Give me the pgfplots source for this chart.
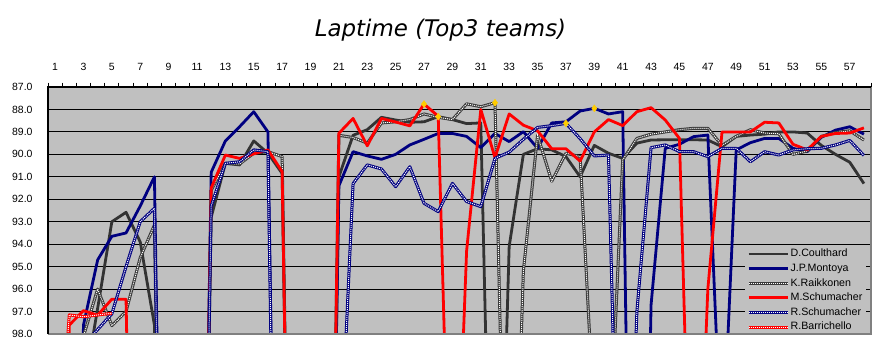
\documentclass[border=0pt]{standalone}
\usepackage{fontspec}
\setmainfont{Liberation Sans}
\newfontfamily\titlefont{DejaVu Sans}
\usepackage{pgfplots}
\pgfplotsset{compat=1.18}
\usepackage{pgfplotstable}
\definecolor{bg}{HTML}{C0C0C0}
\definecolor{dcc}{HTML}{333333}
\definecolor{jpm}{HTML}{000080}
\definecolor{krc}{HTML}{3A3A3A}
\definecolor{msc}{HTML}{FF0000}
\definecolor{gold}{HTML}{FFCC00}
\definecolor{bord}{HTML}{808080}

\pgfplotstableread{
lap DC JPM KR MS RS
1 130 130 130 130 130
2 130 130 130 97.6 130
3 100.6 97.6 98.1 96.96 98.5
4 96.85 94.7 96.0 97.16 97.8
5 93.0 93.65 97.63 96.45 97.1
6 92.58 93.5 97.0 96.45 95.0
7 93.9 92.3 94.6 130 93.0
8 97.6 91.0 93.15 130 92.4
9 130 130 130 130 130
10 130 130 130 130 130
11 130 130 130 130 130
12 92.8 90.8 91.6 91.5 92.3
13 90.4 89.4 90.4 90.03 90.4
14 90.47 88.77 90.43 90.18 90.33
15 89.4 88.1 89.95 89.98 89.8
16 89.95 89.0 89.88 89.8 89.88
17 90.85 130 90.1 90.77 130
18 130 130 130 130 130
19 130 130 130 130 130
20 130 130 130 130 130
21 91.0 91.4 89.15 89.06 105
22 89.15 89.88 89.25 88.4 91.3
23 88.9 90.07 89.5 89.62 90.47
24 88.35 90.22 88.6 88.4 90.65
25 88.47 90.0 88.55 88.56 91.44
26 88.57 89.58 88.45 88.73 90.55
27 88.55 89.33 88.2 87.76 92.18
28 88.32 89.07 88.35 88.3 92.55
29 88.45 89.07 88.45 111 91.29
30 88.63 89.2 87.75 94.3 92.1
31 88.6 89.7 87.88 88.0 92.33
32 116 89.07 87.7 90.15 90.18
33 94.1 89.43 115 88.2 89.9
34 90.0 88.99 95.2 88.7 89.33
35 89.75 89.73 89.15 88.95 88.8
36 89.8 88.6 91.2 89.75 88.72
37 90.1 88.55 89.95 89.75 88.62
38 91.0 88.07 90.1 90.3 89.3
39 89.6 87.95 102 89.0 90.07
40 89.95 88.2 104.5 88.45 90.03
41 90.18 88.1 90.25 88.72 115
42 89.5 130 89.29 88.1 97.0
43 89.36 96.7 89.1 87.92 89.7
44 89.35 89.73 89.0 88.47 89.58
45 89.35 89.55 88.9 89.29 89.88
46 89.35 89.21 88.84 112 89.88
47 89.36 89.14 88.84 96.0 90.1
48 89.66 104 89.6 89.0 89.73
49 89.2 89.8 89.2 89.0 89.73
50 89.14 89.48 88.9 89.0 90.33
51 89.1 89.29 89.05 88.57 89.88
52 89.0 89.29 89.08 88.6 90.03
53 89.0 89.73 90.0 89.55 89.8
54 89.05 89.88 89.85 89.8 89.75
55 89.6 89.24 89.2 89.2 89.73
56 90.0 88.92 89.03 89.07 89.58
57 90.35 88.77 88.95 89.05 89.38
58 91.3 89.1 89.36 88.82 90.05
}\laps

\pgfplotstableread{
lap RB
1 106
2 97.15
3 97.23
4 97.15
5 97.08
}\rbtab

\pgfplotstableread{
lap best
27 87.76
28 88.32
32 87.7
37 88.62
39 87.95
}\besttab

\tikzset{
  solidser/.style={draw=#1, line width=2.8bp, line join=round},
  hatchser/.style={preaction={draw=#1, line width=3bp, solid, line join=round}, draw=white, line width=1bp, dash pattern=on 1bp off 1bp}
}

\begin{document}
\begin{tikzpicture}[x=1bp,y=1bp]
\path[use as bounding box] (0,0) rectangle (887,358);
\node[font=\titlefont\itshape\fontsize{23}{26}\selectfont] at (440.5,328) {Laptime (Top3 teams)};
\begin{axis}[
  at={(48bp,24bp)}, anchor=south west,
  scale only axis, width=823bp, height=247bp,
  xmin=0.5, xmax=58.5, ymin=87, ymax=98, y dir=reverse,
  axis background/.style={fill=bg},
  xtick={1,3,...,57},
  xticklabel pos=upper, xtick pos=upper,
  major tick length=4.3bp, tick align=outside,
  xtick style={draw=none},
  extra x ticks={0.5,1.5,...,58.5},
  extra x tick labels={},
  extra x tick style={xtick style={draw=black, line width=1bp}, xticklabel pos=upper, xtick pos=upper, tick align=outside},
  ytick={87,88,...,98}, ytick pos=left, ytick style={draw=none},
  ymajorgrids, grid style={black, line width=1bp},
  /pgf/number format/assume math mode=true,
  yticklabel={\pgfmathprintnumber[fixed, fixed zerofill, precision=1]{\tick}},
  ticklabel style={font=\fontsize{10.5}{12}\selectfont},
  yticklabel style={inner sep=0pt, anchor=east, xshift=-11bp},
  xticklabel style={inner sep=0pt, anchor=base, yshift=12.5bp},
  legend style={at={(axis description cs:1,0)}, anchor=south east, xshift=-5bp,
    fill=bg, draw=none, font=\fontsize{10.7}{12}\selectfont,
    inner xsep=2bp, inner ysep=1bp, row sep=3.1bp,
    nodes={inner xsep=1.5bp, inner ysep=0.5bp, text height=8bp, text depth=2.5bp, anchor=west}},
  legend cell align=left,
  legend image code/.code={\draw[#1] (0bp,0bp) -- (39bp,0bp);},
]
\addplot[solidser=dcc] table[x=lap, y=DC] {\laps};
\addlegendentry{D.Coulthard}
\addplot[solidser=jpm] table[x=lap, y=JPM] {\laps};
\addlegendentry{J.P.Montoya}
\addplot[hatchser=krc] table[x=lap, y=KR] {\laps};
\addlegendentry{K.Raikkonen}
\addplot[solidser=msc] table[x=lap, y=MS] {\laps};
\addlegendentry{M.Schumacher}
\addplot[hatchser=jpm] table[x=lap, y=RS] {\laps};
\addlegendentry{R.Schumacher}
\addplot[hatchser=msc] table[x=lap, y=RB] {\rbtab};
\addlegendentry{R.Barrichello}
\addplot[only marks, mark=diamond*, mark size=3.5bp, color=gold, forget plot] table[x=lap, y=best] {\besttab};
\end{axis}
\draw[bord, line width=1.3bp] (48,24) -- (871,24) -- (871,271);
\draw[black, line width=1.3bp] (48,24) -- (48,271) -- (871,271);
\end{tikzpicture}
\end{document}
